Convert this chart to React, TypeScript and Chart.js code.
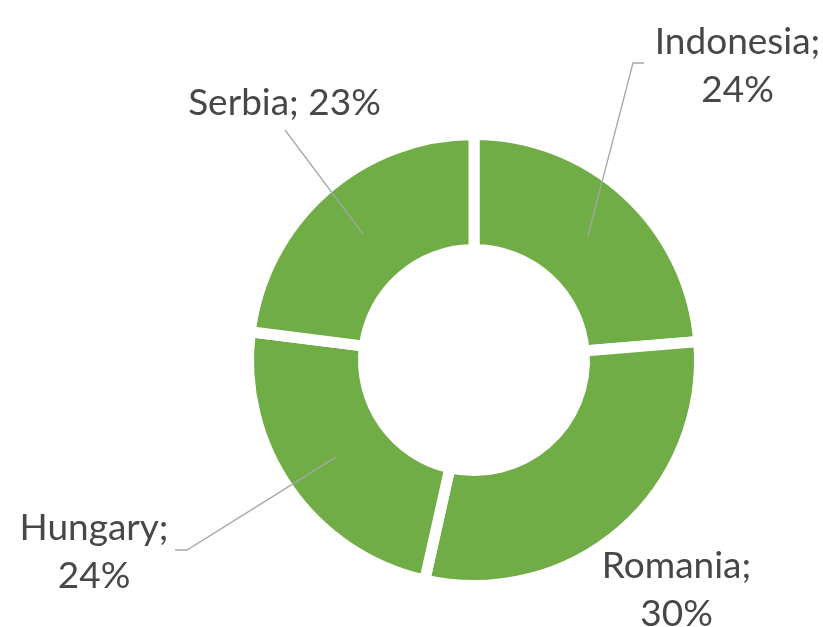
import React, { useEffect, useRef } from "react";
import { Chart, registerables } from "chart.js";

Chart.register(...registerables);

// ---- data ----
const categories = ["Indonesia", "Romania", "Hungary", "Serbia"];
const values = [23.7, 29.8, 23.5, 23.0];
const pctLabels = ["24%", "30%", "24%", "23%"];

// ---- label layout (style, not data) ----
type LabelLayout = { cx: number; baseline: number; oneLine: boolean; elbow: [number, number][] };
const labelLayout: LabelLayout[] = [
  { cx: 737.5, baseline: 54, oneLine: false, elbow: [[644, 63], [633, 63]] },
  { cx: 676.5, baseline: 578, oneLine: false, elbow: [] },
  { cx: 94, baseline: 540, oneLine: false, elbow: [[175, 550], [187, 550]] },
  { cx: 284.5, baseline: 115, oneLine: true, elbow: [[285, 130]] },
];

const GREEN = "#70AD47";
const TEXT = "#474747";
const LEADER = "#A6A6A6";
const FONT = "37px Lato";
const LINE_GAP = 48;

const labelPlugin = {
  id: "customLabels",
  afterDatasetsDraw(chart: any) {
    const ctx = chart.ctx as CanvasRenderingContext2D;
    const meta = chart.getDatasetMeta(0);
    ctx.save();
    meta.data.forEach((arc: any, i: number) => {
      const lay = labelLayout[i];
      const c = arc.getCenterPoint();
      if (lay.elbow.length) {
        ctx.beginPath();
        ctx.strokeStyle = LEADER;
        ctx.lineWidth = 1.3;
        ctx.moveTo(lay.elbow[0][0], lay.elbow[0][1]);
        for (let k = 1; k < lay.elbow.length; k++) ctx.lineTo(lay.elbow[k][0], lay.elbow[k][1]);
        ctx.lineTo(c.x, c.y);
        ctx.stroke();
      }
      ctx.fillStyle = TEXT;
      ctx.font = FONT;
      ctx.textAlign = "center";
      ctx.textBaseline = "alphabetic";
      if (lay.oneLine) {
        ctx.fillText(`${categories[i]}; ${pctLabels[i]}`, lay.cx, lay.baseline);
      } else {
        ctx.fillText(`${categories[i]};`, lay.cx, lay.baseline);
        ctx.fillText(pctLabels[i], lay.cx, lay.baseline + LINE_GAP);
      }
    });
    ctx.restore();
  },
};

export default function App() {
  const ref = useRef<HTMLCanvasElement | null>(null);
  useEffect(() => {
    if (!ref.current) return;
    const chart = new Chart(ref.current, {
      type: "doughnut",
      data: {
        labels: categories,
        datasets: [
          {
            data: values,
            backgroundColor: GREEN,
            borderColor: "#FFFFFF",
            borderWidth: 11,
            borderAlign: "center",
            hoverOffset: 0,
          },
        ],
      },
      options: {
        responsive: false,
        animation: false,
        radius: 225.5,
        cutout: "49%",
        layout: { padding: { left: 125, top: 93, right: 0, bottom: 0 } },
        plugins: {
          legend: { display: false },
          tooltip: { enabled: false },
        },
        events: [],
      },
      plugins: [labelPlugin],
    });
    return () => chart.destroy();
  }, []);
  return (
    <div style={{ position: "absolute", left: 0, top: 0, width: 823, height: 627, background: "#fff" }}>
      <canvas ref={ref} width={823} height={627} style={{ display: "block" }} />
    </div>
  );
}
